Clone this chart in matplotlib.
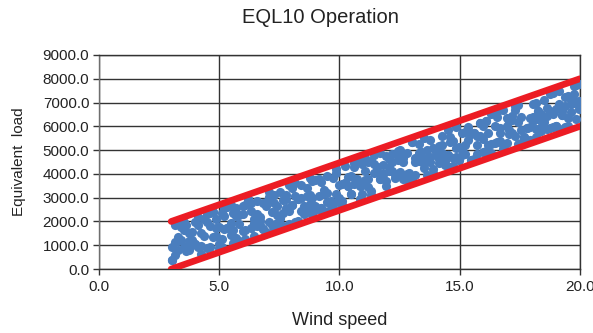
import matplotlib
matplotlib.use("Agg")
import matplotlib.pyplot as plt
import numpy as np

plt.rcParams["font.family"] = ["Liberation Sans", "DejaVu Sans"]

# wind speed columns, each with three load samples
wind = [
    3.03, 3.14, 3.27, 3.39, 3.53, 3.63, 3.75, 3.88, 3.99, 4.11, 4.25,
    4.36, 4.49, 4.61, 4.75, 4.85, 4.97, 5.10, 5.21, 5.33, 5.47,
    5.58, 5.71, 5.83, 5.97, 6.07, 6.19, 6.32, 6.43, 6.55, 6.69,
    6.80, 6.93, 7.05, 7.19, 7.29, 7.41, 7.54, 7.65, 7.77, 7.91,
    8.02, 8.15, 8.27, 8.41, 8.51, 8.63, 8.76, 8.87, 8.99, 9.13,
    9.24, 9.37, 9.49, 9.63, 9.73, 9.85, 9.98, 10.09, 10.21, 10.35,
    10.46, 10.59, 10.71, 10.85, 10.95, 11.07, 11.20, 11.31, 11.43, 11.57,
    11.68, 11.81, 11.93, 12.07, 12.17, 12.29, 12.42, 12.53, 12.65, 12.79,
    12.90, 13.03, 13.15, 13.29, 13.39, 13.51, 13.64, 13.75, 13.87, 14.01,
    14.12, 14.25, 14.37, 14.51, 14.61, 14.73, 14.86, 14.97, 15.09, 15.23,
    15.34, 15.47, 15.59, 15.73, 15.83, 15.95, 16.08, 16.19, 16.31, 16.45,
    16.56, 16.69, 16.81, 16.95, 17.05, 17.17, 17.30, 17.41, 17.53, 17.67,
    17.78, 17.91, 18.03, 18.17, 18.27, 18.39, 18.52, 18.63, 18.75, 18.89,
    19.00, 19.13, 19.25, 19.39, 19.49, 19.61, 19.74, 19.85, 19.97,
]
load_a = [
    371, 1129, 1355, 1218, 1627, 762, 1165, 1571, 1069, 932, 1521,
    2100, 886, 928, 1338, 1373, 1055, 2361, 2580, 2622, 1952,
    1631, 2577, 1899, 1588, 1624, 2926, 2432, 1391, 2873, 2023,
    1701, 1567, 3230, 1839, 1694, 2637, 2143, 2361, 2944, 1913,
    3392, 3078, 2940, 2990, 2485, 3427, 2753, 2972, 2474, 3064,
    2563, 3149, 2831, 2700, 3816, 4218, 3544, 2863, 3625, 3855,
    3893, 4479, 4522, 4571, 3526, 4649, 3795, 4553, 4776, 4285,
    4864, 4010, 3512, 4102, 4497, 3819, 4765, 4804, 3766, 3996,
    4035, 5341, 3943, 4892, 4748, 5510, 4656, 4515, 5097, 4787,
    4645, 5231, 4554, 4783, 5358, 4681, 4727, 4585, 4808, 5757,
    5436, 4582, 5704, 5214, 5609, 4931, 6237, 5736, 6498, 6548,
    6407, 5373, 5055, 6364, 5680, 5722, 6668, 6167, 5849, 5359,
    5937, 6343, 6386, 6975, 6290, 6513, 6199, 5877, 7360, 7409,
    6728, 6954, 6636, 5966, 6361, 6583, 7349, 7028, 7790,
]
load_b = [
    911, 1849, 1175, 1758, 1987, 942, 1525, 1211, 1969, 1832, 621,
    2100, 2326, 1828, 2418, 2093, 875, 1281, 2220, 1722, 2672,
    1091, 1317, 1179, 2668, 1264, 2926, 1712, 1931, 1793, 2203,
    1701, 2647, 3050, 2379, 3134, 1917, 3223, 1821, 2584, 3533,
    2672, 1998, 2940, 3530, 2665, 2527, 3113, 2252, 2654, 3784,
    2563, 3329, 3911, 2520, 2556, 3138, 3004, 2683, 3625, 3495,
    3173, 3579, 3802, 3491, 4426, 4109, 3435, 3293, 4416, 4285,
    3784, 4010, 3692, 4642, 4137, 3999, 4945, 4984, 4666, 4896,
    3675, 3721, 4483, 4532, 4928, 4250, 5016, 4695, 4197, 4967,
    4465, 4871, 4374, 5863, 4278, 5401, 5087, 5125, 5708, 4857,
    5976, 4582, 4624, 4854, 6149, 6011, 6237, 5196, 5238, 6008,
    5327, 5913, 6675, 5284, 6220, 6262, 6848, 6887, 6389, 5539,
    5937, 5983, 6206, 5895, 6650, 5973, 7099, 6417, 6640, 6509,
    6008, 5874, 6456, 6866, 7261, 7123, 6989, 7748, 7070,
]
load_c = [
    371, 589, 815, 1938, 907, 1842, 805, 1031, 1069, 2192, 981,
    1380, 1966, 2368, 2418, 1733, 1775, 921, 1680, 1722, 1412,
    2351, 2217, 2259, 2308, 2704, 2746, 2792, 2111, 2333, 1843,
    2781, 2827, 1970, 3099, 2774, 2277, 2143, 2901, 3124, 2453,
    2672, 3618, 2040, 2450, 2305, 3067, 3833, 3692, 3734, 2524,
    3643, 2429, 3191, 2880, 2736, 4038, 2824, 3583, 4345, 3495,
    3173, 4299, 3622, 2951, 3166, 3749, 4515, 3113, 4056, 4105,
    3784, 4370, 4772, 4282, 4857, 3999, 4585, 4084, 4486, 3816,
    3855, 5341, 4663, 5252, 4928, 4430, 3936, 5415, 4017, 4787,
    5185, 5591, 4734, 4783, 5538, 4321, 5987, 4585, 4988, 5217,
    5796, 5662, 5704, 5574, 6149, 5471, 4977, 4836, 4878, 5288,
    6587, 5733, 5235, 6004, 5860, 6442, 5588, 5267, 5309, 5539,
    5397, 5443, 6926, 5535, 6650, 5793, 6379, 6777, 5920, 5969,
    6008, 7494, 6456, 7226, 6001, 6943, 7709, 6308, 6710,
]

# envelope lines (start/end of the red bands)
upper_x = [3.0, 20.0]
upper_y = [2000, 8000]
lower_x = [3.0, 20.0]
lower_y = [0, 6000]

x_ticks = [0, 5, 10, 15, 20]
y_ticks = [0, 1000, 2000, 3000, 4000, 5000, 6000, 7000, 8000, 9000]

fig = plt.figure(figsize=(5.93, 3.33), dpi=100)
ax = fig.add_axes([0.167, 0.192, 0.811, 0.643])

xs = np.concatenate([wind, wind, wind])
ys = np.concatenate([load_a, load_b, load_c])
ax.plot(xs, ys, linestyle="none", marker="o", markersize=6.6,
        color="#4a7ebe", markeredgewidth=0, zorder=3)

for lx, ly in [(upper_x, upper_y), (lower_x, lower_y)]:
    ax.plot(lx, ly, color="#ec1c24", linewidth=4.8,
            solid_capstyle="round", zorder=4)

ax.set_xlim(0, 20)
ax.set_ylim(0, 9000)
ax.set_xticks(x_ticks)
ax.set_yticks(y_ticks)
ax.set_xticklabels([f"{v:.1f}" for v in x_ticks])
ax.set_yticklabels([f"{v:.1f}" for v in y_ticks])

grid_col = "#333333"
ax.grid(True, color=grid_col, linewidth=1.0, zorder=1)
ax.set_axisbelow(True)
for side in ["top", "right", "left", "bottom"]:
    ax.spines[side].set_color(grid_col)
    ax.spines[side].set_linewidth(1.0)
ax.spines["left"].set_color("#6e6e6e")

ax.tick_params(axis="both", direction="out", length=4, width=1.0,
               color=grid_col, labelsize=11, labelcolor="#222222", pad=3)
ax.tick_params(axis="x", pad=4)

ax.set_xlabel("Wind speed", fontsize=13, color="#222222", labelpad=13)
ax.set_ylabel("Equivalent  load", fontsize=11, color="#222222", labelpad=12)
fig.text(0.54, 0.948, "EQL10 Operation", ha="center", va="center",
         fontsize=14.5, color="#222222")

fig.savefig("out.png", dpi=100)
